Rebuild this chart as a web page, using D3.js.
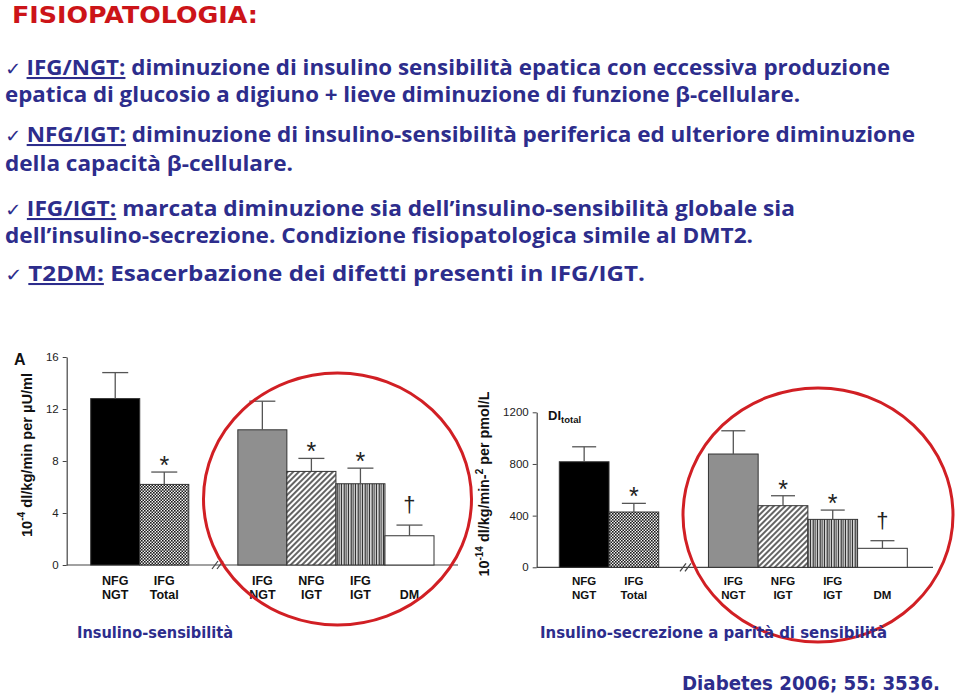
<!DOCTYPE html>
<html><head><meta charset="utf-8">
<script src="https://cdn.jsdelivr.net/npm/d3@7"></script>
<style>body{margin:0;background:#fff}svg{display:block}</style>
</head><body>
<svg id="c" width="959" height="695"></svg>
<script>
// ---------- DATA ----------
const catLine1 = ["NFG", "IFG", "IFG", "NFG", "IFG", ""];
const catLine2 = ["NGT", "Total", "NGT", "IGT", "IGT", "DM"];
const slots = [0, 1, 3, 4, 5, 6];               // slot 2 is the axis break
const sensitivity = [12.8, 6.2, 10.4, 7.2, 6.25, 2.25];
const sensitivitySem = [2.0, 0.95, 2.2, 1.0, 1.2, 0.82];
const diTotal = [817, 428, 877, 477, 371, 147];
const diTotalSem = [116, 67, 180, 77, 72, 59];
const significance = ["", "*", "", "*", "*", "\u2020"];
const sensTicks = [0, 4, 8, 12, 16];
const diTicks = [0, 400, 800, 1200];
const fills = ["#000", "url(#checker)", "#8f8f8f", "url(#diag)", "url(#vstripe)", "#fff"];

const titleText = "FISIOPATOLOGIA:";
const bullets = [
  {check: true, u: "IFG/NGT:", rest: " diminuzione di insulino sensibilità epatica con eccessiva produzione"},
  {check: false, u: "", rest: "epatica di glucosio a digiuno + lieve diminuzione di funzione β-cellulare."},
  {check: true, u: "NFG/IGT:", rest: " diminuzione di insulino-sensibilità periferica ed ulteriore diminuzione"},
  {check: false, u: "", rest: "della capacità β-cellulare."},
  {check: true, u: "IFG/IGT:", rest: " marcata diminuzione sia dell\u2019insulino-sensibilità globale sia"},
  {check: false, u: "", rest: "dell\u2019insulino-secrezione. Condizione fisiopatologica simile al DMT2."},
  {check: true, u: "T2DM:", rest: " Esacerbazione dei difetti presenti in IFG/IGT."}
];
const captions = ["Insulino-sensibilità", "Insulino-secrezione a parità di sensibilità"];
const citation = "Diabetes 2006; 55: 3536.";

// ---------- LAYOUT ----------
const svg = d3.select("#c");
const blue = "#2d2d8c", red = "#cc1418";
const bodyFont = "'Open Sans', 'DejaVu Sans', sans-serif";
const titleFont = "'DejaVu Sans', sans-serif";
const narrowFont = "'Liberation Sans Narrow', 'DejaVu Sans Condensed', 'Roboto', sans-serif";
const chartFont = "'Liberation Sans', Arial, Helvetica, sans-serif";

// patterns
const defs = svg.append("defs");
const pc = defs.append("pattern").attr("id", "checker").attr("width", 3).attr("height", 3)
  .attr("patternUnits", "userSpaceOnUse");
pc.append("rect").attr("width", 3).attr("height", 3).attr("fill", "#f2f2f2");
pc.append("rect").attr("width", 1.6).attr("height", 1.6).attr("fill", "#1a1a1a");
pc.append("rect").attr("x", 1.5).attr("y", 1.5).attr("width", 1.6).attr("height", 1.6).attr("fill", "#1a1a1a");
const pd = defs.append("pattern").attr("id", "diag").attr("width", 4).attr("height", 4)
  .attr("patternUnits", "userSpaceOnUse").attr("patternTransform", "rotate(45)");
pd.append("rect").attr("width", 4).attr("height", 4).attr("fill", "#fff");
pd.append("line").attr("x1", 1).attr("y1", 0).attr("x2", 1).attr("y2", 4)
  .attr("stroke", "#222").attr("stroke-width", 1.4);
const pv = defs.append("pattern").attr("id", "vstripe").attr("width", 7).attr("height", 10)
  .attr("patternUnits", "userSpaceOnUse");
pv.append("rect").attr("width", 7).attr("height", 10).attr("fill", "#e6e6e6");
[[0.6, 1.2], [2.6, 1], [4.8, 1.3]].forEach(([x, w]) =>
  pv.append("rect").attr("x", x).attr("width", w).attr("height", 10).attr("fill", "#333"));

// title and bullet text
svg.append("text").attr("x", 12).attr("y", 22.5).attr("font-family", titleFont)
  .attr("font-weight", 700).attr("font-size", 22.5).attr("fill", red)
  .attr("textLength", 246).attr("lengthAdjust", "spacingAndGlyphs").text(titleText);

const lineY = [75, 102, 142, 171, 216, 243, 281];
const lineW = [885, 795, 910, 288, 790, 748, 640];
bullets.forEach((b, i) => {
  const t = svg.append("text").attr("x", 5).attr("y", lineY[i]).attr("font-family", bodyFont)
    .attr("font-weight", 700).attr("font-size", 20.5).attr("fill", blue)
    .attr("textLength", lineW[i]).attr("lengthAdjust", "spacingAndGlyphs");
  if (b.check) t.append("tspan").attr("font-weight", 400).attr("font-size", 18).text("\u2713 ");
  if (b.u) t.append("tspan").attr("text-decoration", "underline").text(b.u);
  t.append("tspan").text(b.rest);
});

// ---------- CHARTS ----------
function panel(cfg) {
  const g = svg.append("g");
  const x = d3.scaleBand().domain(d3.range(7)).range([cfg.bx0, cfg.bx1]).padding(0);
  const y = d3.scaleLinear().domain([0, cfg.max]).range([cfg.y0, cfg.y1]);

  // baseline
  g.append("line").attr("x1", cfg.ax).attr("x2", cfg.baseEnd).attr("y1", y(0)).attr("y2", y(0))
    .attr("stroke", "#444").attr("stroke-width", 1.2);
  // break marks
  [0, 5].forEach(o => g.append("line")
    .attr("x1", cfg.brk + o - 4).attr("y1", y(0) + 4).attr("x2", cfg.brk + o + 2).attr("y2", y(0) - 4)
    .attr("stroke", "#444").attr("stroke-width", 1.2));

  // y axis
  const ax = g.append("g").attr("transform", `translate(${cfg.ax},0)`)
    .call(d3.axisLeft(y).tickValues(cfg.ticks).tickFormat(d3.format("d"))
      .tickSize(4).tickSizeOuter(0).tickPadding(4));
  ax.select(".domain").attr("stroke", "#444").attr("stroke-width", 1.2);
  ax.selectAll(".tick line").attr("stroke", "#444");
  ax.selectAll(".tick text").attr("font-family", chartFont).attr("font-size", 11.5).attr("fill", "#222");

  // bars
  const data = cfg.values.map((v, i) => ({v, e: cfg.sem[i], s: slots[i], f: fills[i], m: significance[i], l1: catLine1[i], l2: catLine2[i]}));
  g.selectAll("rect.bar").data(data).join("rect").attr("class", "bar")
    .attr("x", d => x(d.s)).attr("width", x.bandwidth())
    .attr("y", d => y(d.v)).attr("height", d => y(0) - y(d.v))
    .attr("fill", d => d.f).attr("stroke", "#333").attr("stroke-width", 1);
  // error bars
  const cx = d => x(d.s) + x.bandwidth() / 2;
  g.selectAll("line.err").data(data).join("line").attr("class", "err")
    .attr("x1", cx).attr("x2", cx).attr("y1", d => y(d.v)).attr("y2", d => y(d.v + d.e))
    .attr("stroke", "#555").attr("stroke-width", 1.3);
  g.selectAll("line.cap").data(data).join("line").attr("class", "cap")
    .attr("x1", d => cx(d) - cfg.cap / 2).attr("x2", d => cx(d) + cfg.cap / 2)
    .attr("y1", d => y(d.v + d.e)).attr("y2", d => y(d.v + d.e))
    .attr("stroke", "#555").attr("stroke-width", 1.3);
  // significance marks
  g.selectAll("text.sig").data(data.filter(d => d.m)).join("text").attr("class", "sig")
    .attr("x", cx).attr("y", d => y(d.v + d.e) - (d.m === "*" ? -2 : 13))
    .attr("text-anchor", "middle").attr("font-family", chartFont)
    .attr("font-size", d => d.m === "*" ? 25 : 22).attr("fill", "#222").text(d => d.m);
  // category labels
  g.selectAll("text.l1").data(data).join("text").attr("class", "l1")
    .attr("x", cx).attr("y", 585).attr("text-anchor", "middle").attr("font-family", chartFont)
    .attr("font-weight", 700).attr("font-size", cfg.catSize).attr("fill", "#111").text(d => d.l1);
  g.selectAll("text.l2").data(data).join("text").attr("class", "l2")
    .attr("x", cx).attr("y", 599).attr("text-anchor", "middle").attr("font-family", chartFont)
    .attr("font-weight", 700).attr("font-size", cfg.catSize).attr("fill", "#111").text(d => d.l2);

  // y label
  const yl = g.append("text").attr("transform", `translate(${cfg.ylx},${cfg.yly}) rotate(-90)`)
    .attr("text-anchor", "middle").attr("font-family", chartFont).attr("font-weight", 700)
    .attr("font-size", cfg.ylSize).attr("fill", "#111");
  cfg.ylabel.forEach(p => {
    yl.append("tspan").attr("font-size", p.sup ? cfg.ylSize * 0.7 : cfg.ylSize).attr("dy", p.dy).text(p.t);
  });
  yl.attr("textLength", cfg.ylen).attr("lengthAdjust", "spacingAndGlyphs");
  return {g, x, y};
}

const left = panel({
  bx0: 90.7, bx1: 434, y0: 565, y1: 357, max: 16, ax: 66.7, baseEnd: 458, brk: 216,
  ticks: sensTicks, values: sensitivity, sem: sensitivitySem, cap: 26, catSize: 12.5,
  ylx: 32, yly: 455, ylen: 164, ylSize: 15.5,
  ylabel: [{t: "10"}, {t: "-4", sup: true, dy: -7}, {t: " dl/kg/min per \u00B5U/ml", dy: 7}]
});
const right = panel({
  bx0: 559.3, bx1: 907.3, y0: 567.3, y1: 412.3, max: 1200, ax: 536.7, baseEnd: 933, brk: 684,
  ticks: diTicks, values: diTotal, sem: diTotalSem, cap: 24, catSize: 11.5,
  ylx: 489, yly: 484, ylen: 185, ylSize: 14.5,
  ylabel: [{t: "10"}, {t: "-14", sup: true, dy: -6}, {t: " dl/kg/min-", dy: 6}, {t: "2", sup: true, dy: -6}, {t: " per pmol/L", dy: 6}]
});

// panel annotations
svg.append("text").attr("x", 14).attr("y", 365).attr("font-family", chartFont)
  .attr("font-weight", 700).attr("font-size", 16).attr("fill", "#111").text("A");
const di = svg.append("text").attr("x", 548).attr("y", 420).attr("font-family", chartFont)
  .attr("font-weight", 700).attr("font-size", 13).attr("fill", "#111");
di.append("tspan").text("DI");
di.append("tspan").attr("font-size", 9.5).attr("dy", 3).text("total");

// red ellipses
svg.append("ellipse").attr("cx", 337.5).attr("cy", 499).attr("rx", 134).attr("ry", 126)
  .attr("fill", "none").attr("stroke", "#d11f24").attr("stroke-width", 3);
svg.append("ellipse").attr("cx", 818).attr("cy", 515).attr("rx", 135).attr("ry", 127)
  .attr("fill", "none").attr("stroke", "#d11f24").attr("stroke-width", 3);

// captions
[[77, 156], [540, 347]].forEach(([x0, w], i) =>
  svg.append("text").attr("x", x0).attr("y", 638).attr("font-family", narrowFont)
    .attr("font-weight", 700).attr("font-size", 16).attr("fill", blue)
    .attr("textLength", w).attr("lengthAdjust", "spacingAndGlyphs").text(captions[i]));
svg.append("text").attr("x", 682).attr("y", 689.5).attr("font-family", narrowFont)
  .attr("font-weight", 700).attr("font-size", 20).attr("fill", blue)
  .attr("textLength", 258).attr("lengthAdjust", "spacingAndGlyphs").text(citation);
</script>
</body></html>
